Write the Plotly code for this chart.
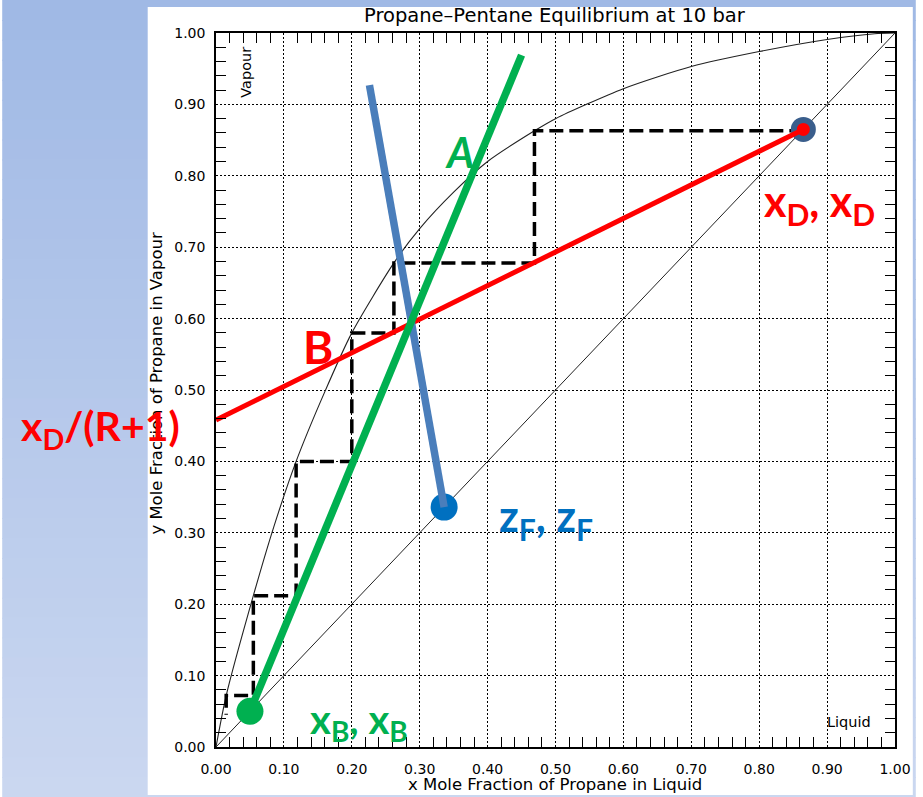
import plotly.graph_objects as go

# Figure geometry (pixels)
W, H = 923, 797
ML, MR, MT, MB = 216, 21, 33, 50
PW, PH = W - ML - MR, H - MT - MB


def px(x):
    return (x - ML) / PW


def py(y):
    return (H - MB - y) / PH


# Vapour-liquid equilibrium curve, propane-pentane at 10 bar
eq_x = [0.0, 0.015, 0.055, 0.085, 0.118, 0.160, 0.200, 0.262, 0.300, 0.350, 0.400,
        0.469, 0.500, 0.600, 0.700, 0.800, 0.900, 0.970, 1.0]
eq_y = [0.0, 0.072, 0.212, 0.308, 0.400, 0.497, 0.580, 0.678, 0.726, 0.777, 0.820,
        0.863, 0.880, 0.922, 0.953, 0.974, 0.991, 0.999, 1.0]

# y = x diagonal
diag_x = [0.0, 1.0]
diag_y = [0.0, 1.0]

# Key compositions
x_D = 0.865
x_B = 0.05
z_F = 0.336
top_intercept = 0.458          # x_D/(R+1)

# Operating lines
rect_x = [0.0, x_D]
rect_y = [top_intercept, x_D]
strip_x = [x_B, 0.450]
strip_y = [x_B, 0.969]
q_x = [z_F, 0.226]
q_y = [z_F, 0.927]

# McCabe-Thiele stages
step_x = [0.865, 0.469, 0.469, 0.262, 0.262, 0.200, 0.200, 0.118, 0.118, 0.055, 0.055, 0.015, 0.015]
step_y = [0.863, 0.863, 0.678, 0.678, 0.580, 0.580, 0.400, 0.400, 0.212, 0.212, 0.072, 0.072, 0.045]

GREEN = "#00b050"
RED = "#ff0000"
BLUE_LINE = "#4a7ebb"
BLUE_DOT = "#0070c0"
RING = "#3a5e8c"

fig = go.Figure()
fig.add_trace(go.Scatter(x=diag_x, y=diag_y, mode="lines",
                         line=dict(color="#222222", width=1)))
fig.add_trace(go.Scatter(x=eq_x, y=eq_y, mode="lines",
                         line=dict(color="#222222", width=1.1, shape="spline", smoothing=0.7)))
fig.add_trace(go.Scatter(x=step_x, y=step_y, mode="lines",
                         line=dict(color="black", width=3.5, dash="14px,6px")))
fig.add_trace(go.Scatter(x=[x_D], y=[x_D], mode="markers",
                         marker=dict(size=19, color=RED, line=dict(color=RING, width=6))))
fig.add_trace(go.Scatter(x=rect_x, y=rect_y, mode="lines",
                         line=dict(color=RED, width=5)))
fig.add_trace(go.Scatter(x=[z_F], y=[z_F], mode="markers",
                         marker=dict(size=27, color=BLUE_DOT, line=dict(width=0))))
fig.add_trace(go.Scatter(x=q_x, y=q_y, mode="lines",
                         line=dict(color=BLUE_LINE, width=7.5)))
fig.add_trace(go.Scatter(x=strip_x, y=strip_y, mode="lines",
                         line=dict(color=GREEN, width=7.5)))
fig.add_trace(go.Scatter(x=[x_B], y=[x_B], mode="markers",
                         marker=dict(size=27, color=GREEN, line=dict(width=0))))

# Slide background: vertical blue gradient with a white panel
shapes = []
n_bands = 40
c_top = (160, 185, 229)
c_bot = (202, 215, 240)
for i in range(n_bands):
    t = i / (n_bands - 1)
    c = tuple(round(a + (b - a) * t) for a, b in zip(c_top, c_bot))
    y0 = H * i / n_bands
    y1 = H * (i + 1) / n_bands + 1
    shapes.append(dict(type="rect", xref="paper", yref="paper", layer="below",
                       x0=px(0), x1=px(W), y0=py(y1), y1=py(y0),
                       line=dict(width=0), fillcolor="rgb(%d,%d,%d)" % c))
shapes.append(dict(type="rect", xref="paper", yref="paper", layer="below",
                   x0=px(147), x1=px(920), y0=py(795), y1=py(7),
                   line=dict(width=0), fillcolor="white"))

AX_FONT = dict(family="DejaVu Sans", size=14, color="black")
LBL = "Lato"

annotations = [
    dict(text="Propane\u2013Pentane Equilibrium at 10 bar", x=px(558), y=py(15),
         font=dict(family="DejaVu Sans", size=19.5, color="black")),
    dict(text="x Mole Fraction of Propane in Liquid", x=px(558), y=py(784),
         font=dict(family="DejaVu Sans", size=16.5, color="black")),
    dict(text="y Mole Fraction of Propane in Vapour", x=px(155), y=py(383), textangle=-90,
         font=dict(family="DejaVu Sans", size=16.5, color="black")),
    dict(text="Vapour", x=px(246), y=py(72), textangle=-90,
         font=dict(family="DejaVu Sans", size=14.5, color="black")),
    dict(text="Liquid", x=px(856), y=py(722),
         font=dict(family="DejaVu Sans", size=14.5, color="black")),
    dict(text="x<sub>D</sub>/(R+1)", x=px(17), y=py(428), xanchor="left",
         font=dict(family=LBL, size=41, color=RED, weight="bold")),
    dict(text="x<sub>D</sub>, x<sub>D</sub>", x=px(826), y=py(203),
         font=dict(family=LBL, size=43, color=RED, weight="bold")),
    dict(text="z<sub>F</sub>, z<sub>F</sub>", x=px(549), y=py(518),
         font=dict(family=LBL, size=43, color=BLUE_DOT, weight="bold")),
    dict(text="x<sub>B</sub>, x<sub>B</sub>", x=px(360), y=py(721),
         font=dict(family=LBL, size=40, color=GREEN, weight="bold")),
    dict(text="B", x=px(319), y=py(346),
         font=dict(family=LBL, size=46, color=RED, weight="bold")),
    dict(text="<i>A</i>", x=px(462), y=py(152),
         font=dict(family=LBL, size=42, color=GREEN, weight="bold")),
]
for a in annotations:
    a.update(xref="paper", yref="paper", showarrow=False)
    a.setdefault("xanchor", "center")
    a.setdefault("yanchor", "middle")

axis_common = dict(
    range=[0, 1], dtick=0.1, tickformat=".2f", tickfont=AX_FONT,
    showline=True, linecolor="black", linewidth=1.5, mirror="allticks",
    ticks="inside", ticklen=10, tickcolor="rgba(0,0,0,0)", tickwidth=1,
    showgrid=True, gridcolor="black", gridwidth=1, griddash="2px,2px",
    zeroline=False, fixedrange=True,
    minor=dict(dtick=0.02, ticks="inside", ticklen=10, tickcolor="black",
               tickwidth=1.3, showgrid=False),
)

fig.update_layout(
    width=W, height=H, autosize=False,
    margin=dict(l=ML, r=MR, t=MT, b=MB, pad=0),
    paper_bgcolor="white", plot_bgcolor="white",
    showlegend=False,
    shapes=shapes,
    annotations=annotations,
    xaxis=dict(axis_common, ticklabelstandoff=8),
    yaxis=dict(axis_common, ticklabelstandoff=6),
)

fig.write_html("out.html")
